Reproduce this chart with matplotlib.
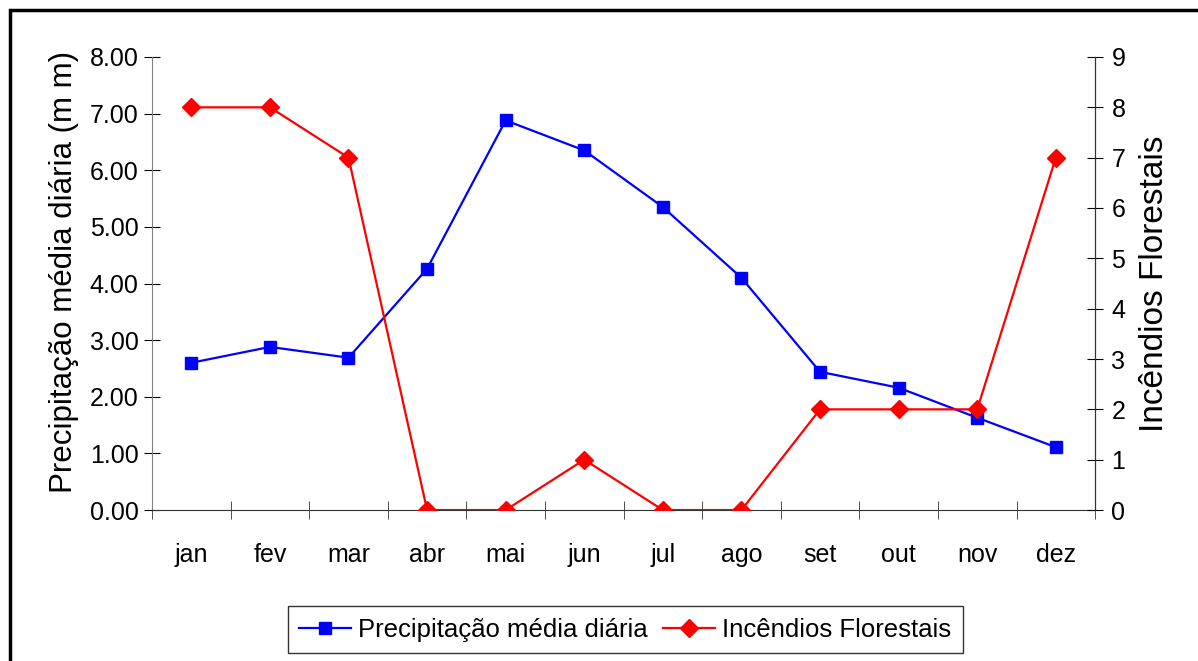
import matplotlib.pyplot as plt
import numpy as np
from matplotlib.patches import Rectangle

plt.rcParams["font.family"] = ["Liberation Sans", "DejaVu Sans"]

months = ["jan", "fev", "mar", "abr", "mai", "jun", "jul", "ago", "set", "out", "nov", "dez"]
precipitacao = [2.60, 2.88, 2.69, 4.26, 6.88, 6.35, 5.35, 4.10, 2.44, 2.16, 1.63, 1.11]
incendios = [8, 8, 7, 0, 0, 1, 0, 0, 2, 2, 2, 7]

fig = plt.figure(figsize=(11.98, 6.61), dpi=100)
ax1 = fig.add_axes([0.1269, 0.2284, 0.7872, 0.6854])
x = np.arange(len(months))

# outer frame (cropped on right and bottom like the source)
fig.patches.append(Rectangle((10 / 1198, -0.05), 1.2, 1 - 10 / 661 + 0.05,
                             transform=fig.transFigure, fill=False,
                             edgecolor="black", linewidth=2.5))

l1, = ax1.plot(x, precipitacao, color="#0000ff", marker="s", markersize=9,
               linewidth=1.6, label="Precipitação média diária")
ax1.set_xlim(-0.5, 11.5)
ax1.set_ylim(0, 8)
ax1.set_yticks(np.arange(0, 9, 1))
ax1.set_yticklabels([f"{v:.2f}" for v in range(9)])
ax1.set_ylabel("Precipitação média diária (m m)", fontsize=22.5)
ax1.yaxis.set_label_coords(-0.077, 0.525)
ax1.set_xticks(x)
ax1.set_xticklabels(months)
ax1.set_xticks(np.arange(-0.5, 12, 1), minor=True)
ax1.tick_params(axis="x", which="major", length=0, pad=24, labelsize=18)
ax1.tick_params(axis="x", which="minor", length=13, direction="inout", color="#333333")
ax1.tick_params(axis="y", direction="inout", length=11.5, labelsize=18, pad=4)

ax2 = ax1.twinx()
l2, = ax2.plot(x, incendios, color="#ff0000", marker="D", markersize=9,
               linewidth=1.6, label="Incêndios Florestais")
ax2.set_ylim(0, 9)
ax2.set_yticks(range(10))
ax2.set_ylabel("Incêndios Florestais", fontsize=24, labelpad=10)
ax2.tick_params(axis="y", direction="inout", length=11.5, labelsize=18, pad=6)

for ax in (ax1, ax2):
    ax.spines["top"].set_visible(False)
ax1.spines["left"].set_color("#808080")
ax1.spines["bottom"].set_color("#333333")
ax2.spines["left"].set_visible(False)
ax2.spines["bottom"].set_visible(False)
ax2.spines["right"].set_color("#333333")

leg = fig.legend(handles=[l1, l2], loc="center", bbox_to_anchor=(0.522, 0.047),
                 ncol=2, fontsize=18.5, frameon=True, fancybox=False,
                 handlelength=2.0, handletextpad=0.3, columnspacing=0.6,
                 borderpad=0.45)
leg.get_frame().set_edgecolor("black")
leg.get_frame().set_linewidth(1.0)

fig.savefig("out.png", dpi=100)
